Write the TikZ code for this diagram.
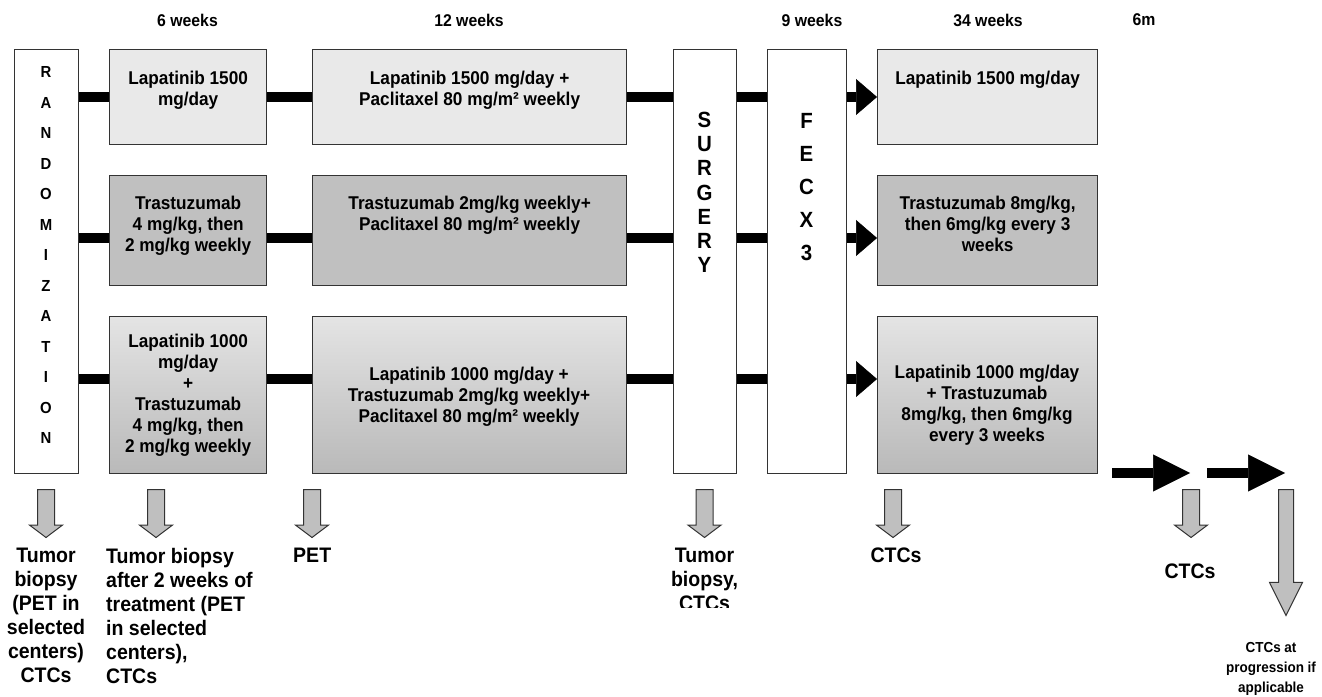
\documentclass[tikz,border=0pt]{standalone}
\usepackage{fontspec}
\setmainfont{Liberation Sans}[FakeStretch=0.93]
\usetikzlibrary{arrows.meta, positioning, shapes.arrows}
\definecolor{LightFill}{HTML}{E9E9E9}
\definecolor{MidFill}{HTML}{C0C0C0}
\definecolor{FadeTop}{HTML}{E4E4E4}
\definecolor{FadeBottom}{HTML}{B9B9B9}
\definecolor{EdgeGray}{HTML}{333333}
\definecolor{ProbeFill}{HTML}{BFBFBF}
\newcommand{\boxfont}{\fontsize{18.5}{21}\selectfont\bfseries}

\begin{document}
\begin{tikzpicture}[x=1pt, y=-1pt,
    box/.style={draw=EdgeGray, line width=1.3pt, anchor=north west, inner sep=0pt},
    boxtext/.style={font=\boxfont, align=center, inner sep=0pt},
    header/.style={font=\fontsize{17}{20}\selectfont\bfseries, inner sep=0pt},
    bar/.style={line width=10pt, black},
    bararrow/.style={bar, -{Triangle[length=21pt, width=36pt, line width=0.5pt]}},
    probe/.style={single arrow, draw=EdgeGray, fill=ProbeFill, line width=1pt,
        rotate=-90, anchor=tail, inner sep=0pt, inner ysep=8pt,
        single arrow head extend=8pt, single arrow tip angle=106, minimum height=48pt},
    note/.style={font=\fontsize{21}{24}\selectfont\bfseries, inner sep=0pt, anchor=north}]

    \fill[white] (0,0) rectangle (1322,696);
    \useasboundingbox (0,0) rectangle (1322,696);

    % Headers
    \node[header] (h1) at (187.5, 20) {6 weeks};
    \node[header] (h2) at (469, 20) {12 weeks};
    \node[header] (h3) at (812, 20) {9 weeks};
    \node[header] (h4) at (988, 20) {34 weeks};
    \node[header] (h5) at (1144, 20) {6m};

    % Tall boxes
    \node[box, fill=white, minimum width=64, minimum height=424] (rand) at (14, 49) {};
    \node[box, fill=white, minimum width=63, minimum height=424] (surg) at (673, 49) {};
    \node[box, fill=white, minimum width=79, minimum height=424] (fec) at (767, 49) {};
    \node[font=\fontsize{16}{30.5}\selectfont\bfseries, align=center, inner sep=0pt] (randt) at (46, 255)
        {R\\A\\N\\D\\O\\M\\I\\Z\\A\\T\\I\\O\\N};
    \node[font=\fontsize{22}{24.2}\selectfont\bfseries, align=center, inner sep=0pt] (surgt) at (704.5, 192.5)
        {S\\U\\R\\G\\E\\R\\Y};
    \node[font=\fontsize{22}{33}\selectfont\bfseries, align=center, inner sep=0pt] (fect) at (806.5, 187)
        {F\\E\\C\\X\\3};

    % Row 1
    \node[box, fill=LightFill, minimum width=157, minimum height=95] (a1) at (109, 49) {};
    \node[box, fill=LightFill, minimum width=314, minimum height=95] (b1) at (312, 49) {};
    \node[box, fill=LightFill, minimum width=220, minimum height=95] (c1) at (877, 49) {};
    \node[boxtext, below=22pt of a1.north] (a1t) {Lapatinib 1500\\mg/day};
    \node[boxtext, below=22pt of b1.north] (b1t) {Lapatinib 1500 mg/day +\\Paclitaxel 80 mg/m² weekly};
    \node[boxtext, below=22pt of c1.north] (c1t) {Lapatinib 1500 mg/day};

    % Row 2
    \node[box, fill=MidFill, minimum width=157, minimum height=110] (a2) at (109, 175) {};
    \node[box, fill=MidFill, minimum width=314, minimum height=110] (b2) at (312, 175) {};
    \node[box, fill=MidFill, minimum width=220, minimum height=110] (c2) at (877, 175) {};
    \node[boxtext, below=21pt of a2.north] (a2t) {Trastuzumab\\4 mg/kg, then\\2 mg/kg weekly};
    \node[boxtext, below=21pt of b2.north] (b2t) {Trastuzumab 2mg/kg weekly+\\Paclitaxel 80 mg/m² weekly};
    \node[boxtext, below=21pt of c2.north] (c2t) {Trastuzumab 8mg/kg,\\then 6mg/kg every 3\\weeks};

    % Row 3
    \node[box, top color=FadeTop, bottom color=FadeBottom, minimum width=157, minimum height=157] (a3) at (109, 316) {};
    \node[box, top color=FadeTop, bottom color=FadeBottom, minimum width=314, minimum height=157] (b3) at (312, 316) {};
    \node[box, top color=FadeTop, bottom color=FadeBottom, minimum width=220, minimum height=157] (c3) at (877, 316) {};
    \node[boxtext] (a3t) at (a3.center) {Lapatinib 1000\\mg/day\\+\\Trastuzumab\\4 mg/kg, then\\2 mg/kg weekly};
    \node[boxtext] (b3t) at (469, 397) {Lapatinib 1000 mg/day +\\Trastuzumab 2mg/kg weekly+\\Paclitaxel 80 mg/m² weekly};
    \node[boxtext] (c3t) at (987, 405) {Lapatinib 1000 mg/day\\+ Trastuzumab\\8mg/kg, then 6mg/kg\\every 3 weeks};

    % Bars between the boxes
    \coordinate (y1) at (0, 97);
    \coordinate (y2) at (0, 238);
    \coordinate (y3) at (0, 379);
    \draw[bar] (rand.east |- y1) -- (a1.west |- y1);
    \draw[bar] (a1.east |- y1) -- (b1.west |- y1);
    \draw[bar] (b1.east |- y1) -- (surg.west |- y1);
    \draw[bar] (surg.east |- y1) -- (fec.west |- y1);
    \draw[bararrow] (fec.east |- y1) -- (c1.west |- y1);
    \draw[bar] (rand.east |- y2) -- (a2.west |- y2);
    \draw[bar] (a2.east |- y2) -- (b2.west |- y2);
    \draw[bar] (b2.east |- y2) -- (surg.west |- y2);
    \draw[bar] (surg.east |- y2) -- (fec.west |- y2);
    \draw[bararrow] (fec.east |- y2) -- (c2.west |- y2);
    \draw[bar] (rand.east |- y3) -- (a3.west |- y3);
    \draw[bar] (a3.east |- y3) -- (b3.west |- y3);
    \draw[bar] (b3.east |- y3) -- (surg.west |- y3);
    \draw[bar] (surg.east |- y3) -- (fec.west |- y3);
    \draw[bararrow] (fec.east |- y3) -- (c3.west |- y3);

    % Follow-up arrows
    \coordinate (f0) at (1112, 473);
    \coordinate (f1) at (1190, 473);
    \coordinate (f2) at (1207, 473);
    \coordinate (f3) at (1285, 473);
    \draw[bar, -{Triangle[length=37pt, width=37pt, line width=0.5pt]}] (f0) -- (f1);
    \draw[bar, -{Triangle[length=37pt, width=37pt, line width=0.5pt]}] (f2) -- (f3);

    % Sampling arrows
    \node[probe] (p1) at (46, 489) {};
    \node[probe] (p2) at (156, 489) {};
    \node[probe] (p3) at (312, 489) {};
    \node[probe] (p4) at (704.5, 489) {};
    \node[probe] (p5) at (893, 489) {};
    \node[probe] (p6) at (1191, 489) {};
    \node[probe, inner ysep=7pt, single arrow head extend=9pt, single arrow tip angle=53,
        minimum height=126pt] (p7) at (1286, 489) {};

    % Sampling labels
    \node[note, align=center] (n1) at (46, 548) {Tumor\\biopsy\\(PET in\\selected\\centers)\\CTCs};
    \node[note, align=left, anchor=north west] (n2) at (106, 548)
        {Tumor biopsy\\after 2 weeks of\\treatment (PET\\in selected\\centers),\\CTCs};
    \node[note, anchor=north west] (n3) at (293, 548) {PET};
    \begin{scope}
        \clip (630, 540) rectangle (780, 607);
        \node[note, align=center] (n4) at (704.5, 548) {Tumor\\biopsy,\\CTCs};
    \end{scope}
    \node[note] (n5) at (896, 548) {CTCs};
    \node[note] (n6) at (1190, 564) {CTCs};
    \node[note, font=\fontsize{14.5}{20}\selectfont\bfseries, align=center] (n7) at (1271, 642)
        {CTCs at\\progression if\\applicable};
\end{tikzpicture}
\end{document}
